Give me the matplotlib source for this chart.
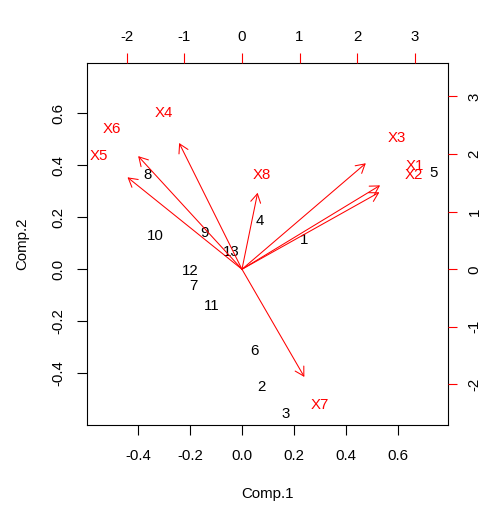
import matplotlib
matplotlib.use("Agg")
import matplotlib.pyplot as plt
import numpy as np

plt.rcParams['font.family'] = ['Liberation Sans', 'DejaVu Sans']

# Scores (Comp.1, Comp.2) for observations
obs_labels = ['1', '2', '3', '4', '5', '6', '7', '8', '9', '10', '11', '12', '13']
comp1 = [0.237, 0.074, 0.169, 0.068, 0.735, 0.048, -0.186, -0.365, -0.145, -0.333, -0.118, -0.199, -0.041]
comp2 = [0.118, -0.446, -0.552, 0.191, 0.374, -0.308, -0.059, 0.368, 0.146, 0.133, -0.136, 0.0, 0.073]

# Loadings (variable positions on the top/right scale)
var_labels = ['X1', 'X2', 'X3', 'X4', 'X5', 'X6', 'X7', 'X8']
load1 = [3.00, 2.985, 2.69, -1.365, -2.487, -2.255, 1.355, 0.34]
load2 = [1.82, 1.67, 2.30, 2.74, 1.995, 2.455, -2.337, 1.66]

bottom_ticks = [-0.4, -0.2, 0.0, 0.2, 0.4, 0.6]
left_ticks = [-0.4, -0.2, 0.0, 0.2, 0.4, 0.6]
top_ticks = [-2, -1, 0, 1, 2, 3]
right_ticks = [-2, -1, 0, 1, 2, 3]

lim = (-0.597, 0.791)
ratio = 4.52
arrow_frac = 0.8

FS = 10.8
fig = plt.figure(figsize=(5.01, 5.11), dpi=100)
pos = [86.7 / 501, 1 - 424.7 / 511, (447.7 - 86.7) / 501, (424.7 - 63.3) / 511]
ax = fig.add_axes(pos)
ax.set_xlim(lim)
ax.set_ylim(lim)
for s in ax.spines.values():
    s.set_linewidth(0.8)
    s.set_color('black')

for lab, x, y in zip(obs_labels, comp1, comp2):
    ax.text(x, y, lab, ha='center', va='center_baseline', fontsize=FS, color='black')

ax.set_xticks(bottom_ticks)
ax.set_xticklabels([f"{t:.1f}" for t in bottom_ticks])
ax.set_yticks(left_ticks)
ax.set_yticklabels([f"{t:.1f}" for t in left_ticks])
ax.tick_params(axis='x', length=7.2, width=0.8, labelsize=FS, pad=10.4)
ax.tick_params(axis='y', length=7.2, width=0.8, labelsize=FS, pad=8.4, labelrotation=90)
for t in ax.get_yticklabels():
    t.set_va('center')
ax.set_xlabel('Comp.1', fontsize=FS, labelpad=17)
ax.set_ylabel('Comp.2', fontsize=FS, labelpad=16)

ax2 = fig.add_axes(pos, frameon=False)
ax2.set_xlim(lim[0] * ratio, lim[1] * ratio)
ax2.set_ylim(lim[0] * ratio, lim[1] * ratio)
ax2.xaxis.tick_top()
ax2.yaxis.tick_right()
ax2.set_xticks(top_ticks)
ax2.set_xticklabels([str(t) for t in top_ticks])
ax2.set_yticks(right_ticks)
ax2.set_yticklabels([str(t) for t in right_ticks])
ax2.tick_params(axis='x', length=7.2, width=0.8, color='red', labelcolor='black', labelsize=FS, pad=6.6)
ax2.tick_params(axis='y', length=6.5, width=0.8, color='red', labelcolor='black', labelsize=FS, pad=7.7, labelrotation=90)
for t in ax2.get_yticklabels():
    t.set_va('center')

for lab, x, y in zip(var_labels, load1, load2):
    ax2.text(x, y, lab, ha='center', va='center_baseline', fontsize=FS, color='red')
    ax2.annotate('', xy=(x * arrow_frac, y * arrow_frac), xytext=(0, 0),
                 arrowprops=dict(arrowstyle='->,head_length=0.624,head_width=0.36',
                                 color='red', lw=0.75, shrinkA=0, shrinkB=0,
                                 mutation_scale=10))

fig.savefig('out.png', dpi=100)
